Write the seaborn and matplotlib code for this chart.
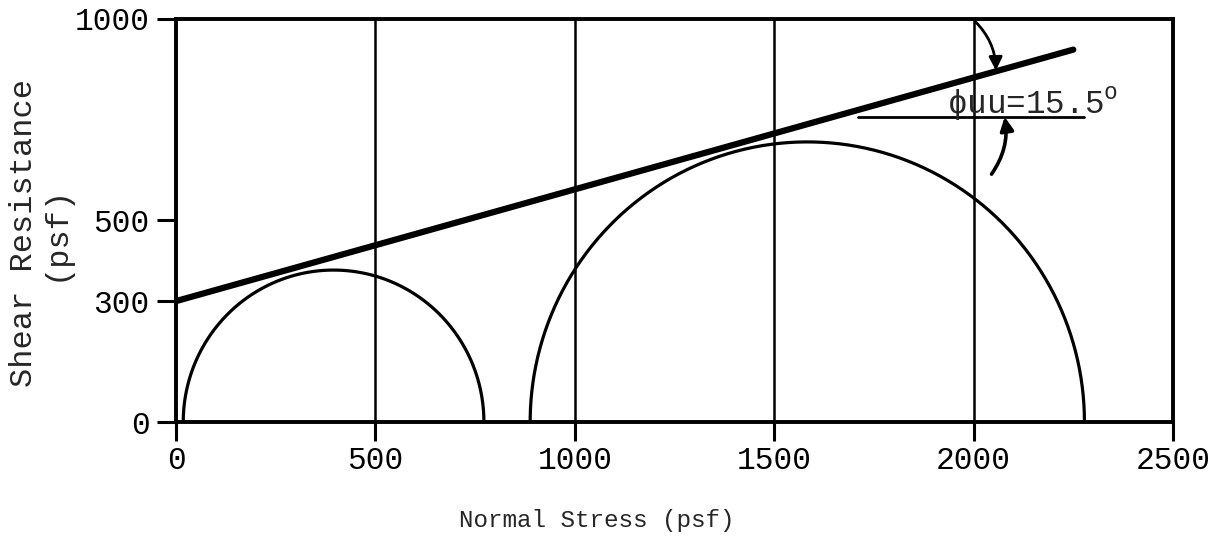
# Mohr circles and strength envelope (phi_uu = 15.5 deg)
import numpy as np
import pandas as pd
import seaborn as sns
import matplotlib.pyplot as plt

sns.set_style("white")
plt.rcParams['font.family'] = ['Liberation Mono', 'DejaVu Sans Mono']
plt.rcParams['mathtext.fontset'] = 'custom'
plt.rcParams['mathtext.rm'] = 'Liberation Mono'

# strength envelope end points (psf)
env_x = [0, 2250]
env_y = [300, 924]

# Mohr circles: centre on the normal-stress axis, radius
circle_names = ["test 1", "test 2"]
circle_centers = [395, 1583]
circle_radii = [377, 695]

x_ticks = [0, 500, 1000, 1500, 2000, 2500]
y_ticks = [0, 300, 500, 1000]
grid_x = [500, 1000, 1500, 2000]

# angle marker
phi_line_x = [1710, 2277]
phi_line_y = [757, 757]
phi_label = "ϕuu=15.5$^{\\mathrm{o}}$"

rows = []
theta = np.linspace(0, np.pi, 200)
for name, c, r in zip(circle_names, circle_centers, circle_radii):
    for t in theta:
        rows.append({"circle": name, "sigma": c + r * np.cos(t), "tau": r * np.sin(t)})
circles = pd.DataFrame(rows)
env = pd.DataFrame({"sigma": env_x, "tau": env_y})

fig = plt.figure(figsize=(12.1, 5.38), dpi=100)
ax = fig.add_axes([0.1455, 0.2156, 0.8239, 0.7491])

for gx in grid_x:
    ax.axvline(gx, color='black', lw=1.8, zorder=1)

sns.lineplot(data=circles, x="sigma", y="tau", units="circle", estimator=None,
             sort=False, color='black', lw=2.3, ax=ax)
sns.lineplot(data=env, x="sigma", y="tau", color='black', lw=4.5, ax=ax,
             solid_capstyle='round')
ax.plot(phi_line_x, phi_line_y, color='black', lw=2)

ax.text(1934, 766, phi_label, fontsize=23.5, ha='left', va='baseline')

# arcs with arrows
ax.annotate("", xy=(2056, 872), xytext=(2003, 995),
            arrowprops=dict(arrowstyle='-|>', color='black', lw=2,
                            connectionstyle='arc3,rad=-0.2', mutation_scale=20,
                            shrinkA=0, shrinkB=0))
ax.annotate("", xy=(2078, 757), xytext=(2045, 615),
            arrowprops=dict(arrowstyle='-|>', color='black', lw=2.6,
                            connectionstyle='arc3,rad=0.2', mutation_scale=20,
                            shrinkA=0, shrinkB=0))

ax.set_xlim(0, 2500)
ax.set_ylim(0, 1000)
ax.set_xticks(x_ticks)
ax.set_yticks(y_ticks)
ax.tick_params(bottom=True, left=True, direction='out', length=14, width=2.2,
               labelsize=22.5, colors='black')
ax.tick_params(axis='x', pad=3)
ax.tick_params(axis='y', pad=5)
for s in ax.spines.values():
    s.set_linewidth(2.8)
    s.set_color('black')

ax.set_xlabel("Normal Stress (psf)", fontsize=17.5)
ax.xaxis.set_label_coords(0.422, -0.215)
ax.set_ylabel("Shear Resistance\n(psf)", fontsize=23, linespacing=1.05)
ax.yaxis.set_label_coords(-0.106, 0.47)

fig.savefig("out.png", dpi=100)
